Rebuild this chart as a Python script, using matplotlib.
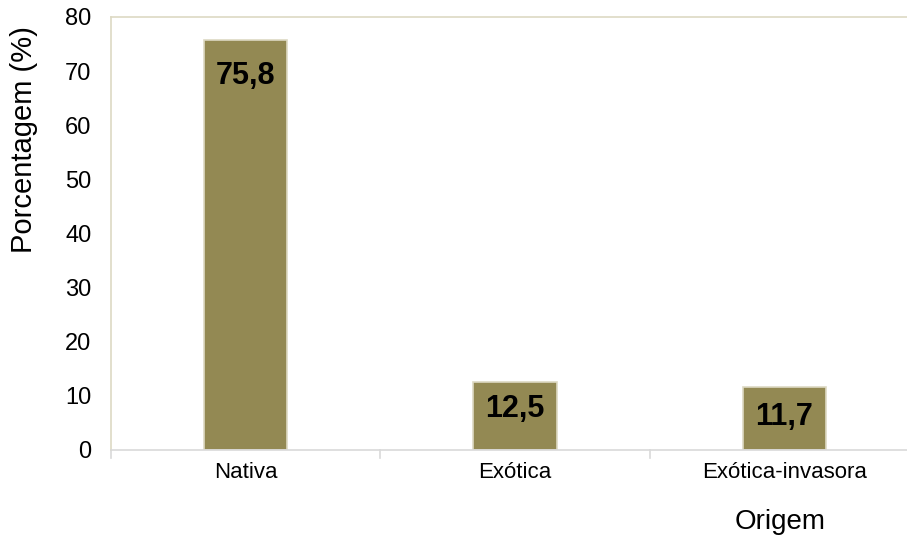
import matplotlib.pyplot as plt
import numpy as np

plt.rcParams['font.family'] = ['Liberation Sans', 'DejaVu Sans']

categorias = ["Nativa", "Exótica", "Exótica-invasora"]
valores = [75.8, 12.5, 11.7]
rotulos = ["75,8", "12,5", "11,7"]

fig = plt.figure(figsize=(9.07, 5.38), dpi=100)
ax = fig.add_axes([0.1224, 0.1636, 0.891, 0.805])

x = np.arange(len(categorias))
barras = ax.bar(x, valores, width=0.31, color="#938953", edgecolor="#DDD9C3", linewidth=1.2)

# deslocamento dos rotulos (px abaixo do topo da barra)
desloc = [36, 27, 30]
for b, r, d in zip(barras, rotulos, desloc):
    ax.annotate(r, (b.get_x() + b.get_width() / 2, b.get_height()),
                xytext=(0, -d * 0.72), textcoords="offset points", ha="center", va="center",
                fontsize=22, fontweight="bold", color="black")

ax.set_xlim(-0.5, 2.5)
ax.set_ylim(0, 80)
ax.set_yticks(range(0, 81, 10))
ax.set_xticks(x)
ax.set_xticklabels(categorias, fontsize=16)
ax.tick_params(axis="y", labelsize=17, length=0, pad=14)
ax.tick_params(axis="x", length=0, pad=9)
# marcas entre categorias
for xm in [-0.5, 0.5, 1.5]:
    ax.plot([xm, xm], [0, -1.5], color="#D9D9D9", lw=1.2, clip_on=False)

for s in ax.spines.values():
    s.set_color("#DDD9C3")
    s.set_linewidth(1.2)
ax.spines["bottom"].set_color("#D9D9D9")

fig.text(24 / 907, 1 - 140 / 538, "Porcentagem (%)", fontsize=21, rotation=90,
         ha="center", va="center")
fig.text(780 / 907, 1 - 522 / 538, "Origem", fontsize=20, ha="center", va="center")

plt.savefig("out.png", dpi=100)
plt.close()
